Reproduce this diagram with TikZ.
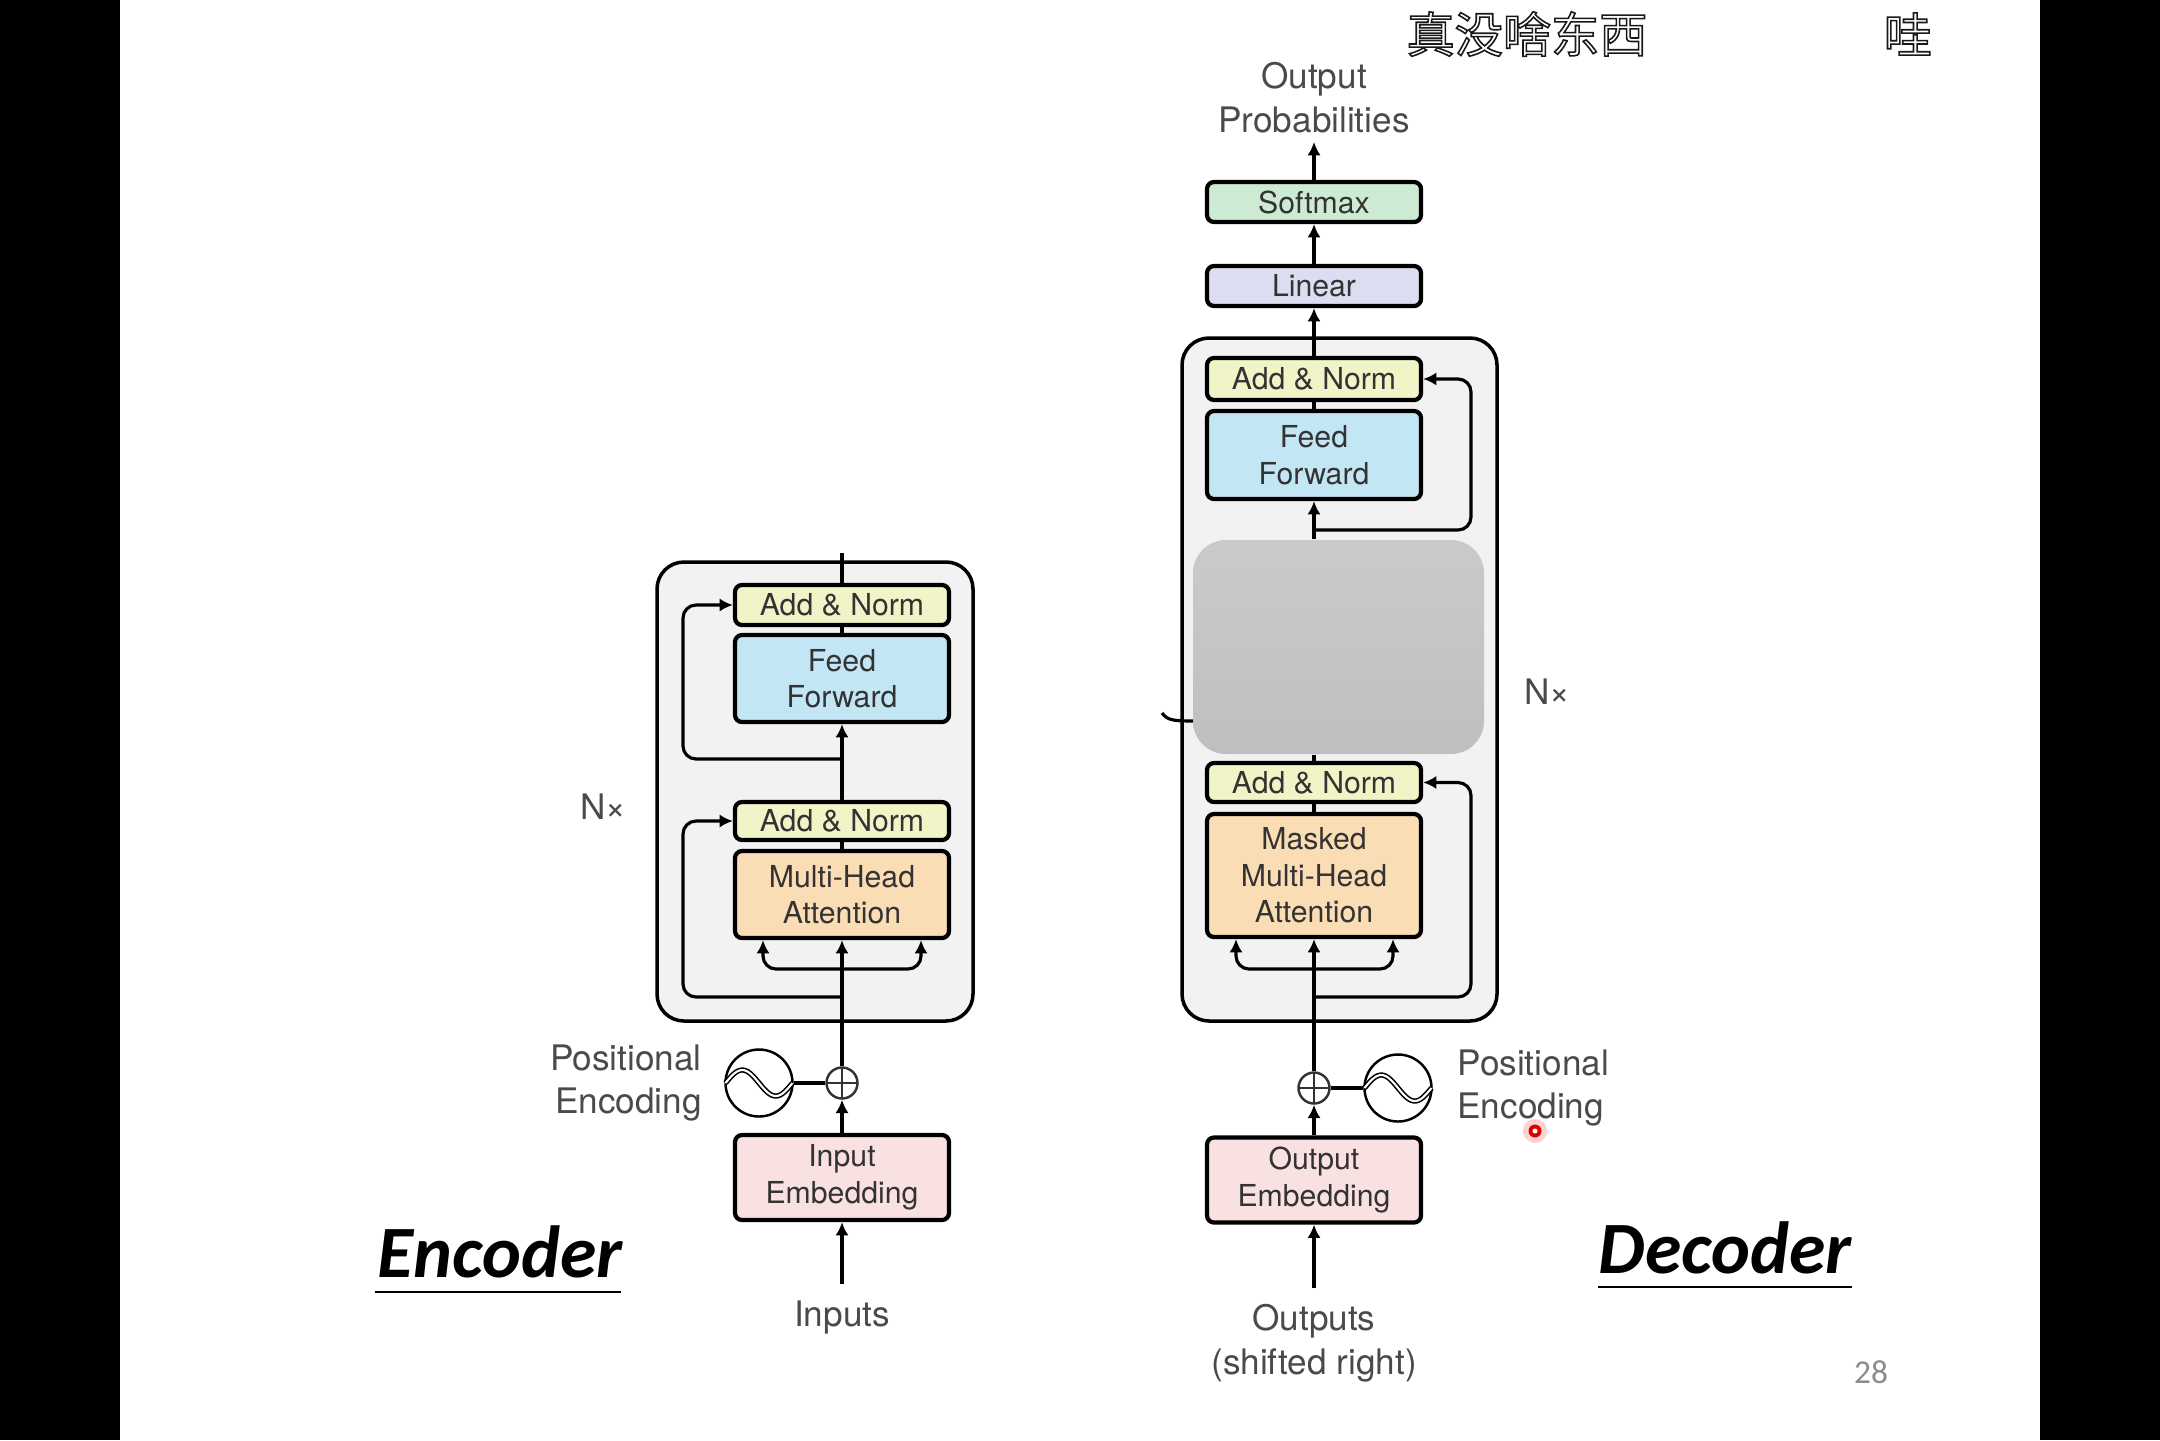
\documentclass[tikz,border=0pt]{standalone}
\usepackage{fontspec}
\usetikzlibrary{arrows.meta,calc,positioning}

\newfontfamily\diagfont{TeX Gyre Heros}
\newfontfamily\slidefont{Carlito}
\newfontfamily\cjkfont{Noto Sans CJK SC}

\newcommand{\boxfont}{\diagfont\fontsize{8.6}{10.4}\selectfont}
\newcommand{\lblfont}{\diagfont\fontsize{10}{12.5}\selectfont}
% white subtitle text with a dark rim
\newcommand{\rimtext}[1]{{\color{white}\special{pdf:literal direct 0.1 0.1 0.1 RG 0.45 w 2 Tr}#1\special{pdf:literal direct 0 Tr}}}

\definecolor{addnormcol}{HTML}{F1F4C6}
\definecolor{ffcol}{HTML}{C3E6F5}
\definecolor{attncol}{HTML}{FBDDB5}
\definecolor{embcol}{HTML}{F9E1E1}
\definecolor{linearcol}{HTML}{DCDDF0}
\definecolor{softcol}{HTML}{CDEBD3}
\definecolor{layercol}{HTML}{F2F2F2}
\definecolor{masktop}{HTML}{CACACA}
\definecolor{maskbot}{HTML}{BFBFBF}
\definecolor{txtcol}{HTML}{333333}
\definecolor{lblcol}{HTML}{4A4A4A}
\definecolor{pagecol}{HTML}{8C8C8C}

\tikzset{
    blk/.style={draw=black, line width=1.2pt, rounded corners=2pt, minimum width=2.14cm,
        inner sep=0pt, align=center, text=txtcol, font=\boxfont},
    addnorm/.style={blk, fill=addnormcol, minimum height=0.40cm},
    ffwd/.style={blk, fill=ffcol, minimum height=0.87cm},
    attn/.style={blk, fill=attncol, minimum height=0.87cm},
    embed/.style={blk, fill=embcol, minimum height=0.85cm},
    linbox/.style={blk, fill=linearcol, minimum height=0.40cm},
    softbox/.style={blk, fill=softcol, minimum height=0.40cm},
    layerbox/.style={draw=black, line width=1pt, fill=layercol, rounded corners=0.27cm, inner sep=0pt},
    maskbox/.style={top color=masktop, bottom color=maskbot, draw=none, rounded corners=0.33cm, inner sep=0pt},
    lbl/.style={text=lblcol, font=\lblfont, align=center, inner sep=0pt},
    wire/.style={line width=0.9pt},
    arr/.style={wire, -{Latex[length=3.8pt,width=3.8pt]}},
    plusnode/.style={circle, draw=txtcol, line width=0.7pt, minimum size=0.31cm, inner sep=0pt,
        path picture={
            \draw[txtcol, line width=0.6pt] (path picture bounding box.north) -- (path picture bounding box.south);
            \draw[txtcol, line width=0.6pt] (path picture bounding box.west) -- (path picture bounding box.east);
        }},
    sinenode/.style={circle, draw=black, line width=0.7pt, minimum size=0.67cm, inner sep=0pt},
    wave/.style={line width=0.45pt, double=white, double distance=0.6pt},
}

\begin{document}
\begin{tikzpicture}[x=1cm,y=-1cm]
    % Slide canvas with the dark side bars
    \useasboundingbox (0,0) rectangle (21.6,14.4);
    \fill[white] (0,0) rectangle (21.6,14.4);
    \fill[black] (0,0) rectangle (1.2,14.4);
    \fill[black] (20.4,0) rectangle (21.6,14.4);

    % Column centres
    \def\ex{8.42} % encoder column
    \def\dx{13.14} % decoder column

    % Layer boxes
    \node[layerbox, minimum width=3.16cm, minimum height=4.59cm] (encLayer) at (8.15,7.915) {};
    \node[layerbox, minimum width=3.15cm, minimum height=6.83cm] (decLayer) at (13.395,6.795) {};

    % ---------------- Encoder ----------------
    \node[addnorm] (encAN2) at (\ex,6.05) {Add \& Norm};
    \node[ffwd] (encFF) at (\ex,6.785) {Feed\\Forward};
    \node[addnorm, minimum height=0.38cm] (encAN1) at (\ex,8.21) {Add \& Norm};
    \node[attn] (encMHA) at (\ex,8.945) {Multi-Head\\Attention};
    \node[embed] (encEmb) at (\ex,11.775) {Input\\Embedding};
    \node[plusnode] (encPlus) at (\ex,10.83) {};
    \node[sinenode] (encSine) at (7.59,10.83) {};
    \draw[wave] plot[domain=-1:1, samples=41, smooth] ({7.59+0.335*\x},{10.83+0.13*sin(180*\x)});
    \node[lbl, align=right, left=0.22cm of encSine] (encPosLbl) {Positional\\Encoding};
    \node[lbl] (inputs) at (\ex,13.17) {Inputs};
    \node[lbl] (encN) at (6.03,8.07) {N×};

    \coordinate (inTail) at (\ex,12.84);
    \coordinate (encTop) at (\ex,5.53);
    \coordinate (encSplit) at (\ex,9.69);
    \coordinate (encRes1) at (\ex,9.97);
    \coordinate (encRes2) at (\ex,7.59);

    \draw[arr] (inTail) -- (encEmb.south);
    \draw[arr] (encEmb.north) -- (encPlus.south);
    \draw[wire] (encSine.east) -- (encPlus.west);
    \draw[arr] (encPlus.north) -- (encMHA.south);
    \draw[arr, rounded corners=0.13cm] (encSplit) -| ([xshift=-0.79cm]encMHA.south);
    \draw[arr, rounded corners=0.13cm] (encSplit) -| ([xshift=0.79cm]encMHA.south);
    \draw[arr, rounded corners=0.13cm] (encRes1) -- ++(-1.59,0) |- (encAN1.west);
    \draw[wire] (encMHA.north) -- (encAN1.south);
    \draw[arr] (encAN1.north) -- (encFF.south);
    \draw[arr, rounded corners=0.13cm] (encRes2) -- ++(-1.59,0) |- (encAN2.west);
    \draw[wire] (encFF.north) -- (encAN2.south);
    \draw[wire] (encAN2.north) -- (encTop);

    % ---------------- Decoder ----------------
    \node[lbl] (probs) at (\dx,0.98) {Output\\Probabilities};
    \node[softbox] (decSoft) at (\dx,2.02) {Softmax};
    \node[linbox] (decLin) at (\dx,2.86) {Linear};
    \node[addnorm, minimum height=0.42cm] (decAN2) at (\dx,3.79) {Add \& Norm};
    \node[ffwd, minimum height=0.88cm] (decFF) at (\dx,4.55) {Feed\\Forward};
    \node[addnorm, minimum height=0.39cm] (decAN1) at (\dx,7.825) {Add \& Norm};
    \node[attn, minimum height=1.23cm] (decMHA) at (\dx,8.755) {Masked\\Multi-Head\\Attention};
    \node[embed] (decEmb) at (\dx,11.80) {Output\\Embedding};
    \node[plusnode] (decPlus) at (\dx,10.88) {};
    \node[sinenode] (decSine) at (13.98,10.88) {};
    \draw[wave] plot[domain=-1:1, samples=41, smooth] ({13.98+0.335*\x},{10.88+0.13*sin(180*\x)});
    \node[lbl, align=left, right=0.24cm of decSine] (decPosLbl) {Positional\\Encoding};
    \node[lbl] (outputs) at (\dx,13.43) {Outputs\\(shifted right)};
    \node[lbl] (decN) at (15.47,6.92) {N×};

    \coordinate (outTail) at (\dx,12.88);
    \coordinate (probTip) at (\dx,1.42);
    \coordinate (decSplit) at (\dx,9.69);
    \coordinate (decRes1) at (\dx,9.97);
    \coordinate (decRes2) at (\dx,5.30);
    \coordinate (hookStart) at (11.62,7.13);
    \coordinate (hookEnd) at (12.00,7.21);

    \draw[arr] (outTail) -- (decEmb.south);
    \draw[arr] (decEmb.north) -- (decPlus.south);
    \draw[wire] (decSine.west) -- (decPlus.east);
    \draw[arr] (decPlus.north) -- (decMHA.south);
    \draw[arr, rounded corners=0.13cm] (decSplit) -| ([xshift=-0.78cm]decMHA.south);
    \draw[arr, rounded corners=0.13cm] (decSplit) -| ([xshift=0.79cm]decMHA.south);
    \draw[arr, rounded corners=0.13cm] (decRes1) -- ++(1.57,0) |- (decAN1.east);
    \draw[wire] (decMHA.north) -- (decAN1.south);
    \draw[wire] (hookStart) .. controls (11.68,7.21) and (11.74,7.21) .. (hookEnd);

    % Covered middle block
    \node[maskbox, minimum width=2.91cm, minimum height=2.14cm] (decMask) at (13.385,6.47) {};

    \draw[wire] (decAN1.north) -- (decAN1.north |- decMask.south);
    \draw[arr] (decFF.south |- decMask.north) -- (decFF.south);
    \draw[arr, rounded corners=0.13cm] (decRes2) -- ++(1.57,0) |- (decAN2.east);
    \draw[wire] (decFF.north) -- (decAN2.south);
    \draw[arr] (decAN2.north) -- (decLin.south);
    \draw[arr] (decLin.north) -- (decSoft.south);
    \draw[arr] (decSoft.north) -- (probTip);

    % Slide titles
    \node[anchor=base, font=\slidefont\bfseries\itshape\fontsize{21}{25}\selectfont] (encTitle) at (5.0,12.77) {Encoder};
    \draw[line width=0.7pt] (3.75,12.92) -- (6.21,12.92);
    \node[anchor=base, font=\slidefont\bfseries\itshape\fontsize{21}{25}\selectfont] (decTitle) at (17.25,12.73) {Decoder};
    \draw[line width=0.7pt] (15.98,12.87) -- (18.52,12.87);
    \node[font=\slidefont\fontsize{9.5}{11}\selectfont, text=pagecol] (pageNo) at (18.71,13.72) {28};

    % Video subtitles and pointer
    \node[font=\cjkfont\fontsize{13.7}{16}\selectfont] (subA) at (15.27,0.34) {\rimtext{真没啥东西}};
    \node[font=\cjkfont\fontsize{13.7}{16}\selectfont] (subB) at (19.08,0.34) {\rimtext{哇}};
    \fill[red!18] (15.35,11.31) circle (0.12);
    \fill[red!85!black] (15.35,11.31) circle (0.065);
    \fill[white] (15.35,11.31) circle (0.025);
\end{tikzpicture}
\end{document}
